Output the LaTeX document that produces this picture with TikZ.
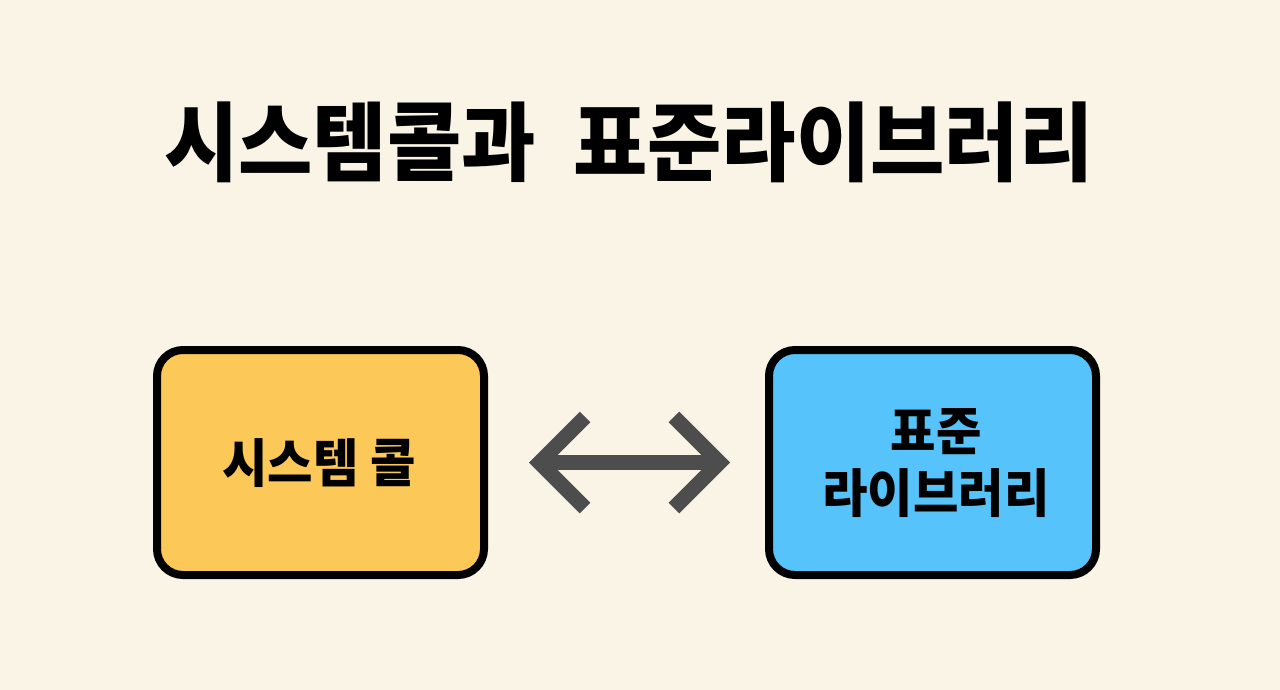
\documentclass[tikz,border=0pt]{standalone}
\usepackage{fontspec}
\usetikzlibrary{calc}
\newfontfamily\kr{Noto Sans CJK KR}[FakeStretch=0.95]
\newfontfamily\krt{Noto Sans CJK KR}[FakeStretch=0.94]
\definecolor{bg}{HTML}{FAF4E6}
\definecolor{yel}{HTML}{FCC858}
\definecolor{blu}{HTML}{56C4FA}
\definecolor{arrgray}{HTML}{4D4D4D}
\tikzset{
  box/.style={draw=black, line width=8pt, rounded corners=26pt, minimum width=327pt, minimum height=225pt, inner sep=0pt},
  boxtext/.style={font=\kr\bfseries\fontsize{52}{62}\selectfont, align=center},
  arr/.style={draw=arrgray, line width=15pt, line cap=butt, line join=miter}
}
\begin{document}
\begin{tikzpicture}[x=1pt,y=-1pt]
\fill[bg] (0,0) rectangle (1280,690);
\useasboundingbox (0,0) rectangle (1280,690);
\node[font=\krt\bfseries\fontsize{86}{100}\selectfont] (title) at (629,142) {시스템콜과~~표준라이브러리};
\node[box, fill=yel] (lb) at (320.5,462.5) {};
\node[box, fill=blu] (rb) at (932.5,462.5) {};
\node[boxtext] (lt) at (319,463) {시스템 콜};
\node[boxtext] (rt) at (936,463) {표준\\라이브러리};
\coordinate (L) at ([xshift=41pt]lb.east);
\coordinate (R) at ([xshift=-35pt]rb.west);
\draw[arr] ($(L)+(10.6,0)$) -- ($(R)+(-10.6,0)$);
\draw[arr] ($(L)+(56.1,-45.5)$) -- ($(L)+(10.6,0)$) -- ($(L)+(56.1,45.5)$);
\draw[arr] ($(R)+(-56.1,-45.5)$) -- ($(R)+(-10.6,0)$) -- ($(R)+(-56.1,45.5)$);
\end{tikzpicture}
\end{document}
